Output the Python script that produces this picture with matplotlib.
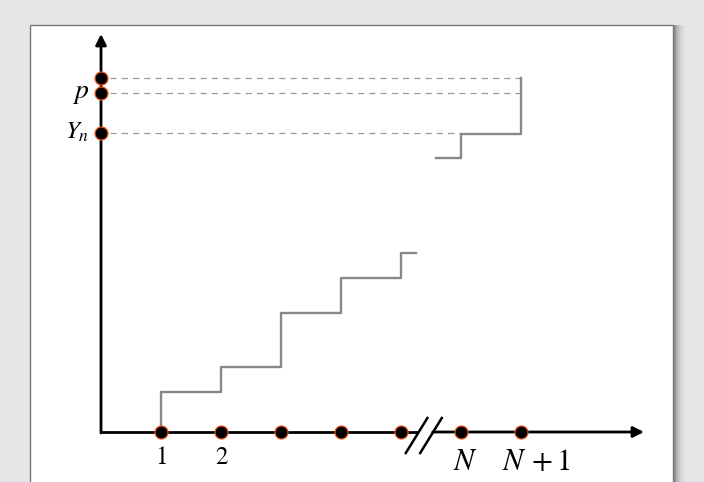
import matplotlib.pyplot as plt
from matplotlib.patches import Rectangle

# ---- data (x in index units, y in arbitrary height units) ----
x_ticks = [1, 2, 3, 4, 5, 6, 7]
x_labels = ['1', '2', '', '', '', '$N$', r'$N\,+1$']
x_label_shift = [0, 0, 0, 0, 0, 0.08, 0.25]

# lower staircase
low_x = [1, 1, 2, 2, 3, 3, 4, 4, 5, 5, 5.25]
low_y = [0, 4.0, 4.0, 6.5, 6.5, 11.9, 11.9, 15.4, 15.4, 17.9, 17.9]

# upper staircase
up_x = [5.58, 6, 6, 7, 7]
up_y = [27.4, 27.4, 29.8, 29.8, 35.4]

# points on the vertical axis, and where their dashed guides stop
y_marks = [35.4, 33.9, 29.9]
y_labels = ['', '$p$', '$Y_n$']
y_label_size = [0, 20, 18]
dash_end = [7, 7, 6]

plt.rcParams['mathtext.fontset'] = 'stix'

# ---- figure ----
W, H = 704, 482
fig = plt.figure(figsize=(W / 100, H / 100), dpi=100)
fig.patch.set_facecolor('#e6e6e8')

# white panel with thin border and a shadow on the right
def fx(px):
    return px / W

def fy(py):
    return 1 - py / H

for i, a in enumerate([0.35, 0.25, 0.18, 0.12, 0.08, 0.05, 0.03]):
    fig.patches.append(Rectangle((fx(674 + i * 1.5), -0.05), fx(1.5), fy(25) + 0.05,
                                 transform=fig.transFigure, color='black', alpha=a, lw=0,
                                 zorder=-2))
fig.patches.append(Rectangle((fx(30), -0.05), fx(643), fy(25) + 0.05,
                             transform=fig.transFigure, facecolor='white',
                             edgecolor='#777777', lw=1.0, zorder=-1))

# axes mapped so that x=k is at pixel 101+60k and y=v at pixel 432-10v
ax = fig.add_axes([0, 0, 1, 1])
ax.set_zorder(5)
ax.set_xlim(-101 / 60, (W - 101) / 60)
ax.set_ylim(-(H - 432) / 10, 432 / 10)
ax.axis('off')
ax.patch.set_alpha(0)

# axes lines
ax.plot([0, 5.28], [0, 0], color='black', lw=2, solid_capstyle='butt', zorder=3)
ax.annotate('', xy=(9.05, 0), xytext=(5.53, 0),
            arrowprops=dict(arrowstyle='-|>', color='black', lw=2, mutation_scale=16,
                            shrinkA=0, shrinkB=0), zorder=3)
ax.annotate('', xy=(0, 39.8), xytext=(0, -0.1),
            arrowprops=dict(arrowstyle='-|>', color='black', lw=2, mutation_scale=16,
                            shrinkA=0, shrinkB=0), zorder=3)

# axis break marks
for x0 in [5.08, 5.32]:
    ax.plot([x0, x0 + 0.36], [-2.1, 1.4], color='black', lw=1.8, zorder=3)

# dashed guides
for yv, xe in zip(y_marks, dash_end):
    ax.plot([0.15, xe], [yv, yv], color='#999999', lw=0.9, dashes=(5, 4), zorder=1)

# staircases
ax.plot(low_x, low_y, color='#888888', lw=1.7, zorder=2)
ax.plot(up_x, up_y, color='#888888', lw=1.7, zorder=2)

# markers
mk = dict(marker='o', ms=9.3, mfc='black', mec='#e8501a', mew=0.9, ls='none', zorder=4)
ax.plot(x_ticks, [0] * len(x_ticks), **mk)
ax.plot([0] * len(y_marks), y_marks, **mk)

# labels
for xv, lab, dx in zip(x_ticks, x_labels, x_label_shift):
    if not lab:
        continue
    big = '$' in lab
    ax.text(xv + dx, -3.1 if big else -2.6, lab, ha='center', va='center',
            family='STIXGeneral', fontsize=22 if big else 18)
for yv, lab, fs in zip(y_marks, y_labels, y_label_size):
    if lab:
        ax.text(-0.2, yv, lab, ha='right', va='center', family='STIXGeneral', fontsize=fs)

fig.savefig('out.png', dpi=100, facecolor=fig.get_facecolor())
